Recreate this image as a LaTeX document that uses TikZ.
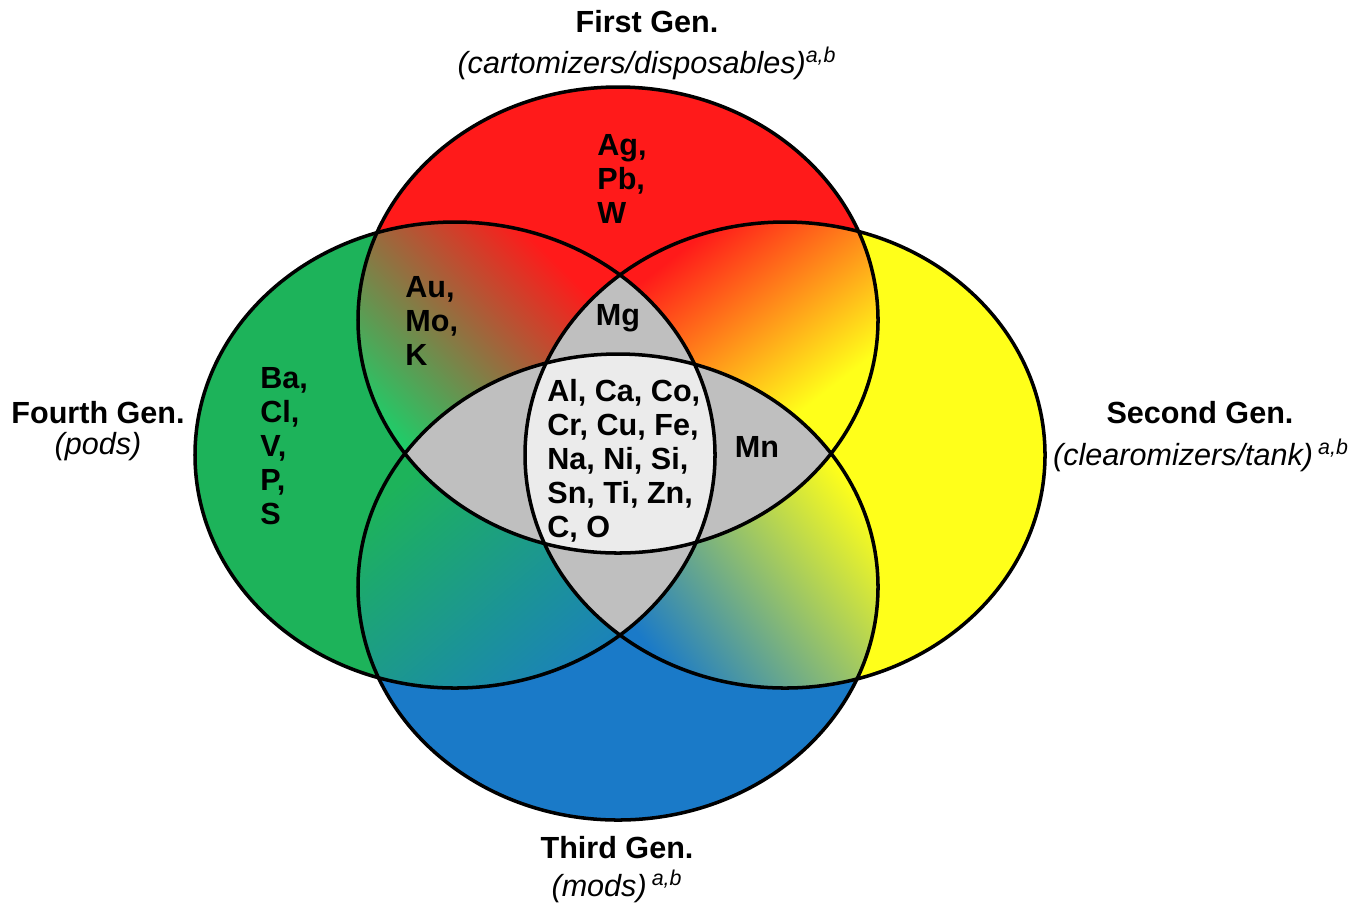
\documentclass[tikz,border=0pt]{standalone}
\usepackage{fontspec}
\setmainfont{Liberation Sans}
\usepackage{xcolor}
\definecolor{genred}{RGB}{255,26,26}
\definecolor{genyellow}{RGB}{255,255,26}
\definecolor{genblue}{RGB}{26,122,200}
\definecolor{gengreen}{RGB}{29,179,90}
\definecolor{genlime}{RGB}{30,205,105}
\definecolor{shared}{RGB}{191,191,191}
\definecolor{allfour}{RGB}{235,235,235}

\tikzset{
  firstE/.style={insert path={(cFirst) ellipse [x radius=260, y radius=233]}},
  secondE/.style={insert path={(cSecond) ellipse [x radius=260, y radius=233]}},
  thirdE/.style={insert path={(cThird) ellipse [x radius=260, y radius=233]}},
  fourthE/.style={insert path={(cFourth) ellipse [x radius=260, y radius=233]}},
}

% blend #1 (top) into #2 (bottom) over a band of half-width #3
\newcommand{\blendband}[3]{%
  \fill[#1] (-400,-500) rectangle (400,0);
  \fill[#2] (-400,0) rectangle (400,500);
  \shade[top color=#1, bottom color=#2] (-400,-#3) rectangle (400,#3);}

\begin{document}
\begin{tikzpicture}[x=0.02cm, y=-0.02cm,
    every node/.style={font=\fontsize{17.4}{19.4}\selectfont, inner sep=0pt},
    gen/.style={font=\fontsize{17.4}{19.4}\selectfont\bfseries},
    sub/.style={font=\fontsize{17.4}{19.4}\selectfont\itshape},
    elem/.style={font=\fontsize{17.4}{19.4}\selectfont\bfseries, align=left, anchor=west}]
      % \draw[help lines, gray!50, very thin] (0,0) grid[step=100] (1364,904);
      \useasboundingbox (0,0) rectangle (1364,904);

      \coordinate (cFirst) at (618,320);
      \coordinate (cSecond) at (785,455);
      \coordinate (cThird) at (618,587);
      \coordinate (cFourth) at (455,455);

      % plain colours
      \fill[genred, firstE];
      \fill[genyellow, secondE];
      \fill[genblue, thirdE];
      \fill[gengreen, fourthE];

      % two-way overlaps
      \begin{scope}
        \clip[firstE]; \clip[fourthE];
        \begin{scope}[transform canvas={shift={(450,325)}, rotate=-45}]
          \blendband{genred}{genlime}{120}
        \end{scope}
      \end{scope}
      \begin{scope}
        \clip[firstE]; \clip[secondE];
        \begin{scope}[transform canvas={shift={(765,312)}, rotate=38}]
          \blendband{genred}{genyellow}{100}
        \end{scope}
      \end{scope}
      \begin{scope}
        \clip[thirdE]; \clip[fourthE];
        \begin{scope}[transform canvas={shift={(495,598)}, rotate=40}]
          \blendband{gengreen}{genblue}{150}
        \end{scope}
      \end{scope}
      \begin{scope}
        \clip[thirdE]; \clip[secondE];
        \begin{scope}[transform canvas={shift={(762,582)}, rotate=-53}]
          \blendband{genyellow}{genblue}{130}
        \end{scope}
      \end{scope}

      % three-way and four-way overlaps
      \begin{scope}
        \clip[firstE]; \fill[shared, thirdE];
      \end{scope}
      \begin{scope}
        \clip[secondE]; \fill[shared, fourthE];
      \end{scope}
      \begin{scope}
        \clip[firstE]; \clip[thirdE]; \clip[secondE]; \fill[allfour, fourthE];
      \end{scope}

      % outlines
      \draw[line width=2pt, firstE];
      \draw[line width=2pt, secondE];
      \draw[line width=2pt, thirdE];
      \draw[line width=2pt, fourthE];

      % generation labels
      \node[gen] (first) at (647,22) {First Gen.};
      \node[sub] (firstsub) at (647,63) {(cartomizers/disposables)\textsuperscript{a,b}};
      \node[gen] (second) at (1200,413) {Second Gen.};
      \node[sub] (secondsub) at (1201,455) {(clearomizers/tank)\,\textsuperscript{a,b}};
      \node[gen] (third) at (617,848) {Third Gen.};
      \node[sub] (thirdsub) at (617,886) {(mods)\,\textsuperscript{a,b}};
      \node[gen] (fourth) at (98,413) {Fourth Gen.};
      \node[sub] (fourthsub) at (98,447) {(pods)};

      % elements
      \node[elem] (agpbw) at (597,179) {Ag,\\Pb,\\W};
      \node[elem] (aumok) at (405,321) {Au,\\Mo,\\K};
      \node[elem] (baclvps) at (260,446) {Ba,\\Cl,\\V,\\P,\\S};
      \node[elem] (common) at (547,461) {Al, Ca, Co,\\Cr, Cu, Fe,\\Na, Ni, Si,\\Sn, Ti, Zn,\\C, O};
      \node[gen] (mg) at (618,318) {Mg};
      \node[gen] (mn) at (757,447) {Mn};
    \end{tikzpicture}
\end{document}
